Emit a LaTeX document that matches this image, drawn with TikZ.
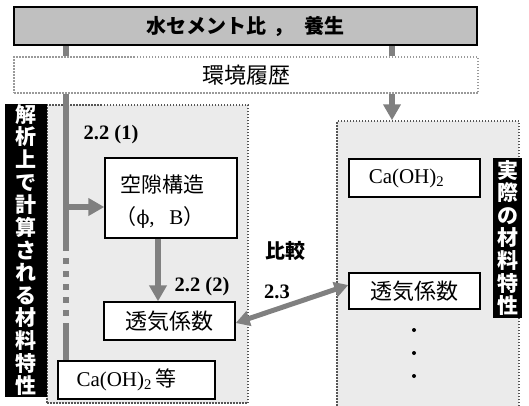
\documentclass[tikz,border=0pt]{standalone}
\usepackage{fontspec}
\setmainfont{Liberation Serif}
\newfontfamily\cjk{Noto Sans CJK JP}
\newfontfamily\dvs{DejaVu Serif}
\usetikzlibrary{arrows.meta}
\definecolor{arrgray}{HTML}{808080}
\definecolor{topgray}{HTML}{C0C0C0}
\definecolor{reggray}{HTML}{EBEBEB}
\definecolor{dotgray}{HTML}{9A9A9A}
\definecolor{dotdark}{HTML}{555555}
\tikzset{
  garr/.style={draw=arrgray, line width=6pt},
  garrow/.style={garr, -{Triangle[length=16pt,width=17pt]}},
  gdbl/.style={draw=arrgray, line width=5pt, {Triangle[length=14pt,width=15pt]}-{Triangle[length=14pt,width=15pt]}},
  whitebox/.style={draw=black, fill=white, line width=1.4pt, inner sep=0pt},
  region/.style={draw=dotdark, fill=reggray, line width=1.5pt, dash pattern=on 1.5pt off 1.5pt},
  blacklabel/.style={fill=black, text=white, inner sep=0pt, align=center, font=\cjk\bfseries\fontsize{21}{22.6}\selectfont},
  cjktext/.style={font=\cjk\fontsize{22}{24}\selectfont},
  serif/.style={font=\fontsize{21}{23}\selectfont},
  numlbl/.style={font=\bfseries\fontsize{20.5}{22}\selectfont},
  dotn/.style={circle, fill=black, inner sep=0pt, minimum size=4pt}
}
\begin{document}
\begin{tikzpicture}[x=1pt,y=-1pt]
\useasboundingbox (0,0) rectangle (529,405);
% regions
\node[region, minimum width=201pt, minimum height=298pt] (lreg) at (147.5,254) {};
\node[region, minimum width=182pt, minimum height=289pt] (rreg) at (428,265.5) {};
% top boxes
\node[draw=black, fill=topgray, line width=2.5pt, minimum width=463pt, minimum height=38pt, inner sep=0pt,
      font=\cjk\bfseries\fontsize{20}{22}\selectfont] (top) at (245.5,26) {水セメント比\hspace{7pt}，\hspace{11pt}養生};
\node[draw=dotgray, line width=1.5pt, dash pattern=on 1.5pt off 1.5pt, minimum width=464pt, minimum height=36pt, inner sep=0pt, cjktext] (env) at (246,75) {環境履歴};
% coordinates
\coordinate (xl) at (66,0);
\coordinate (xr) at (392,0);
\coordinate (br) at (66,207);
\coordinate (dashA) at (66,245);
\coordinate (dashB) at (66,326);
% left boxes
\node[whitebox, minimum width=132pt, minimum height=80pt] (void) at (171,198) {};
\node[cjktext, font=\cjk\fontsize{21}{23}\selectfont] (voidt) at (162,185) {空隙構造};
\node[serif] (voidp) at (160,217) {{\cjk （}{\dvs\fontsize{19}{21}\selectfont ϕ},\hspace{0.7em}B{\cjk ）}};
\node[whitebox, minimum width=131pt, minimum height=38pt, cjktext] (tk1) at (169.5,321) {透気係数};
\node[whitebox, minimum width=157pt, minimum height=38pt, serif] (ca1) at (136.5,380) {\hspace{-20pt}Ca(OH)\textsubscript{2}\,{\cjk 等}};
% right boxes
\node[whitebox, minimum width=131pt, minimum height=38pt, serif] (ca2) at (414.5,178) {\hspace{-16pt}Ca(OH)\textsubscript{2}};
\node[whitebox, minimum width=131pt, minimum height=36pt, cjktext] (tk2) at (414.5,291) {透気係数};
\node[dotn] (d1) at (414,330) {};
\node[dotn] (d2) at (414,353) {};
\node[dotn] (d3) at (414,376) {};
% black labels
\node[blacklabel, minimum width=42pt, minimum height=293pt] (llab) at (26,250)
  {解\\析\\上\\で\\計\\算\\さ\\れ\\る\\材\\料\\特\\性};
\node[blacklabel, minimum width=29pt, minimum height=160pt] (rlab) at (507.5,238)
  {実\\際\\の\\材\\料\\特\\性};
% connectors
\draw[garr] (top.south -| xl) -- (env.north -| xl);
\draw[garr] (top.south -| xr) -- (env.north -| xr);
\draw[garrow] (env.south -| xr) -- (rreg.north -| xr);
\draw[garr] (env.south -| xl) -- (dashA);
\draw[garr, dash pattern=on 6pt off 7pt] (dashA) -- (dashB);
\draw[garr] (dashB) -- (ca1.north -| xl);
\draw[garrow] (br) -- (br -| void.west);
\draw[garrow] ([xshift=-13pt]void.south) -- ([xshift=-11.5pt]tk1.north);
\draw[gdbl] ([yshift=-2pt]tk1.east) -- ([yshift=6pt]tk2.west);
% labels
\node[numlbl] (l1) at (111,135) {2.2 (1)};
\node[numlbl] (l2) at (202,287) {2.2 (2)};
\node[font=\cjk\bfseries\fontsize{20}{22}\selectfont] (hk) at (285,251) {比較};
\node[numlbl] (l3) at (277,292) {2.3};
\end{tikzpicture}
\end{document}
